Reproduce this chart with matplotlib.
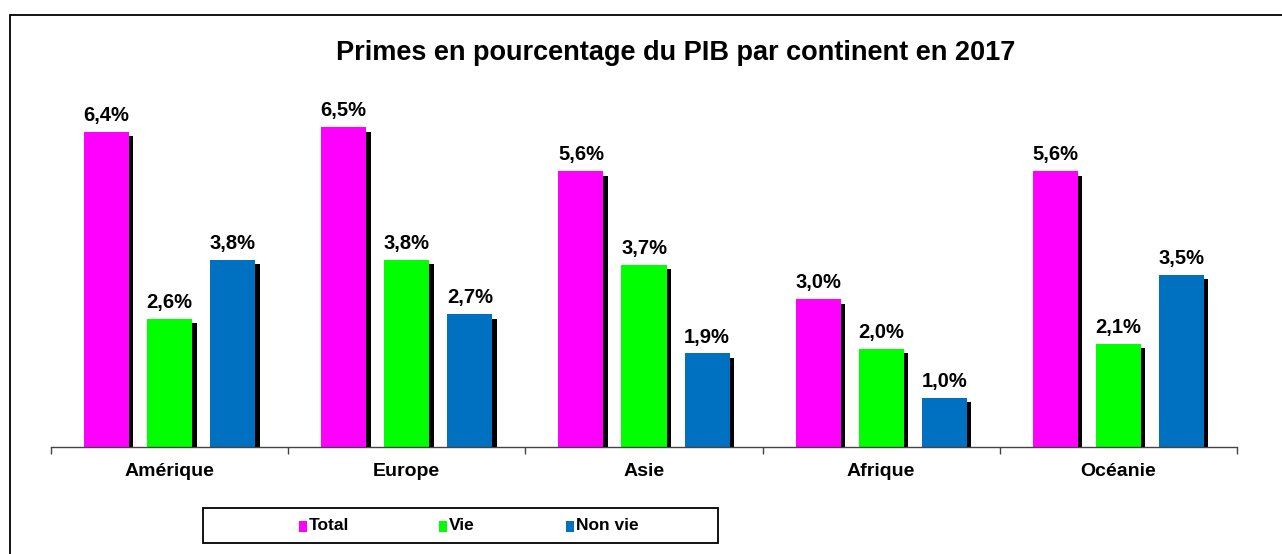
import matplotlib
matplotlib.use("Agg")
import matplotlib.pyplot as plt
import matplotlib.patheffects as pe
from matplotlib.patches import Rectangle
from matplotlib import font_manager
import numpy as np

plt.rcParams['font.family'] = ['Liberation Sans', 'DejaVu Sans']

title = "Primes en pourcentage du PIB par continent en 2017"
categories = ["Amérique", "Europe", "Asie", "Afrique", "Océanie"]
series_names = ["Total", "Vie", "Non vie"]
total = [6.4, 6.5, 5.6, 3.0, 5.6]
vie = [2.6, 3.8, 3.7, 2.0, 2.1]
non_vie = [3.8, 2.7, 1.9, 1.0, 3.5]
colors = ["#FF00FF", "#00FF00", "#0070C0"]

available = {f.name for f in font_manager.fontManager.ttflist}
legend_family = ['Liberation Sans Narrow'] if 'Liberation Sans Narrow' in available else ['Liberation Sans']
legend_size = 14 if 'Liberation Sans Narrow' in available else 12.5

W, H = 1282, 554
fig = plt.figure(figsize=(W / 100, H / 100), dpi=100)

# outer border (left/top visible)
fig.patches.append(Rectangle((10 / W, -0.05), 1.2, 1 - 15 / H + 0.05, transform=fig.transFigure,
                             fill=False, edgecolor="black", linewidth=1.3))

left, right, base = 51, 1237, 447
ymax = 7.0
ppu = (base - 132) / 6.4
top_px = base - ymax * ppu
ax = fig.add_axes([left / W, 1 - base / H, (right - left) / W, (base - top_px) / H])
ax.set_xlim(-0.5, len(categories) - 0.5)
ax.set_ylim(0, ymax)

x = np.arange(len(categories))
bw = 0.19
step = 0.266
shadow = [pe.SimplePatchShadow(offset=(3.2, -3.2), shadow_rgbFace="black", alpha=1.0), pe.Normal()]
for i, (vals, c) in enumerate(zip([total, vie, non_vie], colors)):
    pos = x + (i - 1) * step
    bars = ax.bar(pos, vals, width=bw, color=c, edgecolor="none", zorder=3)
    for b in bars:
        b.set_path_effects(shadow)
    for p, v in zip(pos, vals):
        ax.annotate(f"{v:.1f}%".replace(".", ","), (p, v), xytext=(0, 5), textcoords="offset points",
                    ha="center", va="bottom", fontsize=14.5, fontweight="bold", zorder=5)

for s in ["top", "right", "left"]:
    ax.spines[s].set_visible(False)
ax.spines["bottom"].set_color("#444444")
ax.spines["bottom"].set_linewidth(1.0)
ax.spines["bottom"].set_zorder(4)
ax.set_yticks([])
ax.set_xticks(np.arange(len(categories) + 1) - 0.5)
ax.set_xticklabels([])
ax.tick_params(axis="x", direction="out", length=5, width=1.0, color="#444444")
for xi, cat in zip(x, categories):
    ax.text(xi, -25 / ppu, cat, ha="center", va="center", fontsize=14, fontweight="bold")
ax.patch.set_alpha(0)

fig.text(676 / W, 1 - 53 / H, title, ha="center", va="center", fontsize=19.5, fontweight="bold")

# legend box
lx0, lx1, ly0, ly1 = 203, 718, 508, 543
fig.patches.append(Rectangle((lx0 / W, 1 - ly1 / H), (lx1 - lx0) / W, (ly1 - ly0) / H,
                             transform=fig.transFigure, fill=False, edgecolor="black", linewidth=1.3))
marker_x = [299, 439, 566]
for mx, name, c in zip(marker_x, series_names, colors):
    fig.patches.append(Rectangle((mx / W, 1 - 532 / H), 8 / W, 11 / H, transform=fig.transFigure,
                                 facecolor=c, edgecolor="none"))
    fig.text((mx + 10) / W, 1 - 526 / H, name, ha="left", va="center", fontsize=legend_size,
             fontweight="bold", family=legend_family)

fig.savefig("out.png", dpi=100)
